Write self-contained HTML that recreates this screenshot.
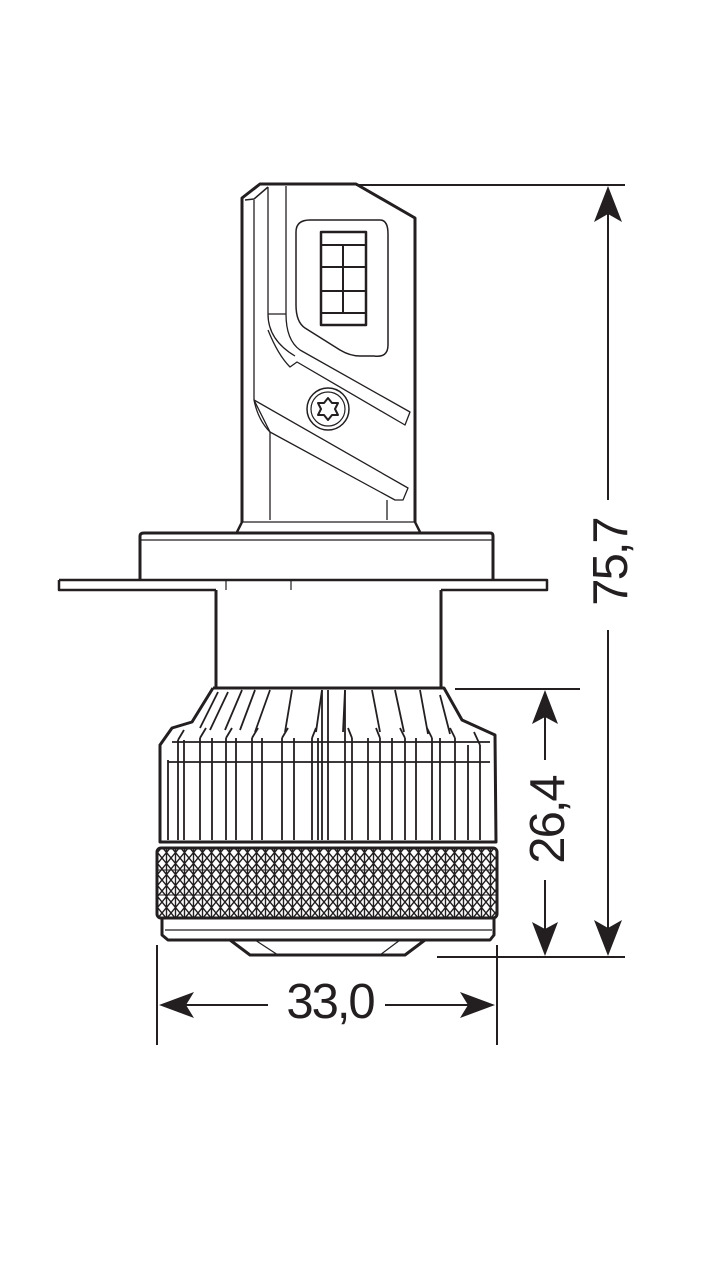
<!DOCTYPE html>
<html><head><meta charset="utf-8"><style>
html,body{margin:0;padding:0;background:#fff}
svg{display:block}
text{font-family:"Liberation Sans",Arial,sans-serif;fill:#231f20}
</style></head><body>
<svg width="706" height="1273" viewBox="0 0 706 1273" xmlns="http://www.w3.org/2000/svg">
<defs>
<pattern id="knurl" width="9" height="11" patternUnits="userSpaceOnUse">
<path d="M0 0L9 11M9 0L0 11M4.5 0L4.5 11" stroke="#231f20" stroke-width="1.4" fill="none"/>
</pattern>
</defs>
<g stroke="#231f20" fill="none" stroke-linejoin="round">
<!-- top module -->
<path d="M242 522 L242 198 L260 184 L356 184 L415 218 L415 522" stroke-width="3"/>
<path d="M245 200 L254 199 L268 187" stroke-width="1.5"/>
<line x1="254" y1="200" x2="254" y2="400" stroke-width="1.3"/>
<line x1="268" y1="187" x2="268" y2="314" stroke-width="1.3"/>
<line x1="286" y1="186" x2="286" y2="314" stroke-width="1.3"/>
<path d="M268 314 L286 314" stroke-width="1.3"/>
<path d="M268 314 Q268 340 295 356 M286 314 Q286 340 300 350 L410 412 L405 425 L297 362 L290 367 Q278 355 268 330" stroke-width="1.3"/>
<path d="M254 400 L408 488 L403 500 L395 500 L270 432 Q258 420 254 400" stroke-width="1.3"/>
<path d="M254 400 L270 432" stroke-width="1.3"/>
<line x1="270" y1="432" x2="270" y2="520" stroke-width="1.3"/>
<line x1="387" y1="500" x2="387" y2="520" stroke-width="1.3"/>
<path d="M296 232 Q296 220 310 220 L380 220 Q388 220 388 234 L388 345 Q388 358 374 356 L360 356 Q350 356 340 350 L305 328 Q296 322 296 305 Z" stroke-width="1.5"/>
<rect x="321" y="232" width="45" height="93" stroke-width="2.5"/>
<path d="M321 245H366M321 267H366M321 291H366M321 313H366M343 245V313" stroke-width="2"/>
<circle cx="328" cy="409" r="21" stroke-width="1.5"/>
<circle cx="328" cy="409" r="17" stroke-width="1.2"/>
<path d="M328 398 L332 403 L338 403 L335 409 L338 415 L332 415 L328 420 L324 415 L318 415 L321 409 L318 403 L324 403 Z" stroke-width="2"/>
<path d="M242 522 L236 534 M415 522 L421 534" stroke-width="2.5"/>
<line x1="242" y1="522" x2="415" y2="522" stroke-width="1.3"/>
<!-- flange -->
<path d="M140 580 L140 536 Q140 533 144 533 L490 533 Q493 533 493 536 L493 580" stroke-width="3"/>
<line x1="141" y1="540" x2="493" y2="540" stroke-width="1.2"/>
<path d="M59 580 L59 590 L216 590 M441 590 L547 590 L547 580 L59 580" stroke-width="2.5"/>
<line x1="226" y1="580" x2="226" y2="590" stroke-width="1.2"/>
<line x1="291" y1="580" x2="291" y2="590" stroke-width="1.2"/>
<!-- neck -->
<path d="M216 590 L216 688 M441 590 L441 688" stroke-width="3"/>
<!-- heatsink -->
<path d="M213 688 L444 688 L462 720 L495 735 L496 842 L160 842 L160 745 L172 728 L192 722 L213 688" stroke-width="3"/>
<g stroke-width="1.8">
<path d="M218 692L200 728M228 692L210 730M242 690L225 730M255 690L240 730M270 690L255 732M292 690L285 732M322 690L316 732M345 690L343 732M372 690L380 732M395 690L404 732M420 690L428 734M440 695L450 734"/>
<path d="M168 760V840M178 740V840M184 740V840M200 738V840M212 738V840M226 738V840M236 738V840M252 738V840M262 738V840M282 738V840M294 738V840M312 738V840M318 738V840M322 690V840M328 690V840M345 690V840M352 738V840M368 738V840M380 738V840M392 738V840M405 738V840M416 738V840M432 738V840M440 738V840M455 738V840M468 745V840M480 745V840"/>
<path d="M172 742H490M168 762H490"/>
<path d="M178 740L184 730M200 738L206 728M226 738L232 728M252 738L258 728M282 738L288 728M312 738L316 728M352 738L348 728M380 738L376 728M405 738L400 728M432 738L427 728M455 738L450 728M480 745L474 732"/>
</g>
<line x1="162" y1="842" x2="494" y2="842" stroke-width="2"/>
<line x1="162" y1="848" x2="494" y2="848" stroke-width="2"/>
<rect x="157" y="848" width="340" height="70" rx="4" fill="url(#knurl)" stroke-width="3"/>
<path d="M158 870H497M158 895H497" stroke-width="1"/>
<path d="M162 918 L162 935 L168 940 L490 940 L494 935 L494 918" stroke-width="3"/>
<line x1="165" y1="930" x2="492" y2="930" stroke-width="1.3"/>
<path d="M230 940 L250 955 L405 955 L425 940" stroke-width="3"/>
<path d="M255 940 L278 955 M400 940 L380 955" stroke-width="1.2"/>
</g>
<!-- dimensions -->
<g stroke="#231f20" stroke-width="2" fill="none">
<line x1="356" y1="185" x2="625" y2="185"/>
<line x1="437" y1="957" x2="625" y2="957"/>
<line x1="455" y1="689" x2="580" y2="689"/>
<line x1="608" y1="210" x2="608" y2="500"/>
<line x1="608" y1="630" x2="608" y2="935"/>
<line x1="545" y1="710" x2="545" y2="760"/>
<line x1="545" y1="880" x2="545" y2="935"/>
<line x1="157" y1="945" x2="157" y2="1045"/>
<line x1="497" y1="945" x2="497" y2="1045"/>
<line x1="180" y1="1005" x2="268" y2="1005"/>
<line x1="385" y1="1005" x2="475" y2="1005"/>
</g>
<g fill="#231f20">
<path d="M608 186 L622 222 L608 214 L594 222 Z"/>
<path d="M608 956 L622 920 L608 928 L594 920 Z"/>
<path d="M545 690 L558 724 L545 717 L532 724 Z"/>
<path d="M545 956 L558 922 L545 929 L532 922 Z"/>
<path d="M159 1005 L194 992 L186 1005 L194 1018 Z"/>
<path d="M495 1005 L460 992 L468 1005 L460 1018 Z"/>
</g>
<text x="330" y="1018" font-size="49" text-anchor="middle" letter-spacing="-2">33,0</text>
<text transform="translate(627,562) rotate(-90)" font-size="49" text-anchor="middle" letter-spacing="-2">75,7</text>
<text transform="translate(564,820) rotate(-90)" font-size="49" text-anchor="middle" letter-spacing="-2">26,4</text>
</svg>
</body></html>
